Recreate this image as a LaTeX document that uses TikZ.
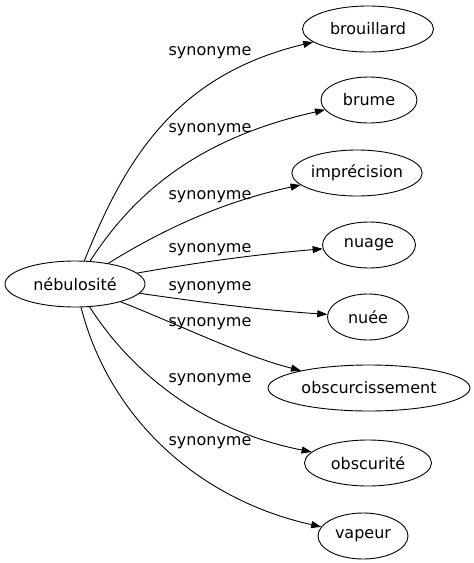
\documentclass[tikz,border=0pt]{standalone}
\usepackage{fontspec}
\setmainfont{DejaVu Sans}
\usetikzlibrary{shapes.geometric, arrows.meta, positioning}
\tikzset{
  word/.style={ellipse, draw=black, line width=0.9pt, minimum height=46pt,
               minimum width=#1, inner sep=0pt, font=\fontsize{16}{18}\selectfont},
  word/.default=90pt,
  link/.style={-{Triangle[length=10pt, width=7pt]}, line width=0.9pt, draw=black},
  tag/.style={font=\fontsize{16}{18}\selectfont, inner sep=0pt},
}
\begin{document}
\begin{tikzpicture}[x=1pt, y=-1pt]
  \useasboundingbox (0,0) rectangle (474,563);
  % centre word
  \node[word=140pt] (neb) at (75,284) {nébulosité};
  % synonyms
  \node[word=131pt] (brou) at (368,29) {brouillard};
  \node[word=96pt]  (brum) at (369,100) {brume};
  \node[word=130pt] (impr) at (357,173) {imprécision};
  \node[word=93pt]  (nuag) at (369,245) {nuage};
  \node[word=81pt]  (nuee) at (368,317) {nuée};
  \node[word=202pt] (obsc) at (369,388) {obscurcissement};
  \node[word=127pt] (obsi) at (368,463) {obscurité};
  \node[word=90pt]  (vape) at (363,536) {vapeur};
  % edges
  \draw[link] (neb) .. controls (125,160) and (175,75) .. (brou);
  \draw[link] (neb) .. controls (130,200) and (190,140) .. (brum);
  \draw[link] (neb) .. controls (170,225) and (230,200) .. (impr);
  \draw[link] (neb) .. controls (200,262) and (260,254) .. (nuag);
  \draw[link] (neb) .. controls (200,302) and (260,310) .. (nuee);
  \draw[link] (neb) .. controls (180,325) and (240,355) .. (obsc);
  \draw[link] (neb) .. controls (130,370) and (200,430) .. (obsi);
  \draw[link] (neb) .. controls (110,420) and (200,500) .. (vape);
  % labels
  \node[tag] (t1) at (210,53) {synonyme};
  \node[tag] (t2) at (210,130) {synonyme};
  \node[tag] (t3) at (210,197) {synonyme};
  \node[tag] (t4) at (210,250) {synonyme};
  \node[tag] (t5) at (210,288) {synonyme};
  \node[tag] (t6) at (210,324) {synonyme};
  \node[tag] (t7) at (210,380) {synonyme};
  \node[tag] (t8) at (210,443) {synonyme};
\end{tikzpicture}
\end{document}
